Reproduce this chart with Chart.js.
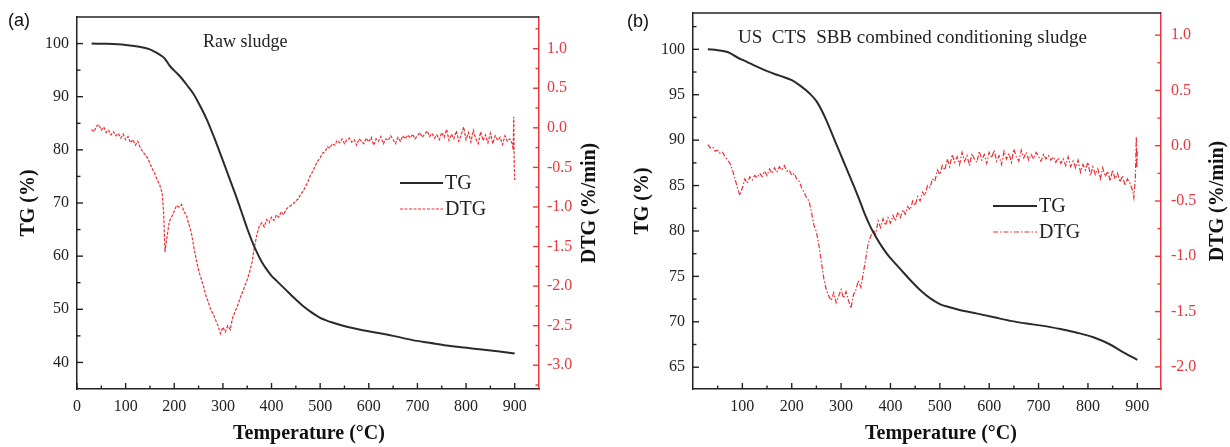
<!DOCTYPE html>
<html><head><meta charset="utf-8">
<script src="https://cdn.jsdelivr.net/npm/chart.js@4.4.0/dist/chart.umd.min.js"></script>
<style>
html,body{margin:0;padding:0;background:#fff;}
#wrap{position:relative;width:1230px;height:447px;overflow:hidden;background:#fff;}
canvas{position:absolute;top:0;}
#ca{left:0;} #cb{left:615px;}
</style></head><body>
<div id="wrap"><canvas id="ca" width="615" height="447"></canvas><canvas id="cb" width="615" height="447"></canvas></div>
<script>
// ---------- DATA ----------
// Panel (a) Raw sludge : TG (%) vs temperature (°C)
const tgA = [[30,100],[60,99.95],[100,99.75],[125,99.45],[150,98.9],[165,98.2],[175,97.6],[182,97.0],[190,95.9],[200,94.9],[212,93.8],[225,92.3],[239,90.6],[253,88.3],[267,85.7],[280,82.8],[295,79.2],[308,76.0],[325,71.8],[341,67.6],[350,65.2],[360,62.8],[370,60.7],[380,58.9],[390,57.5],[400,56.3],[410,55.4],[420,54.5],[430,53.6],[440,52.7],[450,51.85],[460,51.0],[470,50.25],[480,49.55],[490,48.95],[500,48.4],[510,48.0],[525,47.5],[555,46.7],[590,46.0],[623,45.5],[655,44.9],[690,44.2],[725,43.7],[760,43.2],[795,42.8],[828,42.5],[865,42.1],[900,41.7]];
// Panel (a) DTG (%/min)
const dtgA = [[30,-0.02],[35,-0.05],[40,0.02],[45,0.04],[50,-0.03],[55,0.01],[60,-0.06],[65,-0.03],[70,-0.09],[75,-0.05],[80,-0.10],[85,-0.07],[90,-0.13],[95,-0.08],[100,-0.15],[105,-0.11],[110,-0.19],[115,-0.15],[120,-0.22],[125,-0.17],[130,-0.25],[135,-0.30],[140,-0.34],[145,-0.38],[150,-0.45],[155,-0.52],[160,-0.58],[165,-0.66],[170,-0.72],[175,-0.82],[178,-1.05],[181,-1.57],[185,-1.38],[190,-1.18],[195,-1.12],[200,-1.05],[205,-0.98],[210,-1.00],[215,-0.97],[220,-1.06],[225,-1.10],[230,-1.22],[235,-1.32],[240,-1.50],[245,-1.66],[250,-1.80],[255,-1.90],[260,-2.00],[265,-2.12],[270,-2.20],[275,-2.30],[280,-2.35],[285,-2.43],[290,-2.50],[295,-2.60],[300,-2.52],[305,-2.58],[310,-2.50],[315,-2.55],[320,-2.40],[325,-2.32],[330,-2.25],[335,-2.16],[340,-2.08],[345,-2.00],[350,-1.92],[355,-1.82],[360,-1.70],[365,-1.50],[370,-1.35],[375,-1.24],[380,-1.20],[385,-1.25],[390,-1.16],[395,-1.20],[400,-1.13],[405,-1.17],[410,-1.10],[415,-1.13],[420,-1.06],[425,-1.10],[430,-1.03],[435,-1.00],[440,-0.98],[445,-0.96],[450,-0.92],[455,-0.90],[460,-0.84],[465,-0.80],[470,-0.74],[475,-0.68],[480,-0.60],[485,-0.55],[490,-0.48],[495,-0.42],[500,-0.38],[505,-0.32],[510,-0.30],[515,-0.24],[520,-0.26],[525,-0.20],[530,-0.22],[535,-0.16],[540,-0.19],[545,-0.14],[550,-0.20],[555,-0.15],[560,-0.13],[565,-0.18],[570,-0.15],[575,-0.22],[580,-0.14],[585,-0.17],[590,-0.20],[595,-0.13],[600,-0.18],[605,-0.12],[610,-0.22],[615,-0.14],[620,-0.17],[625,-0.11],[630,-0.20],[635,-0.14],[640,-0.16],[645,-0.10],[650,-0.15],[655,-0.20],[660,-0.12],[665,-0.17],[670,-0.10],[675,-0.14],[680,-0.09],[685,-0.13],[690,-0.08],[695,-0.14],[700,-0.10],[705,-0.06],[710,-0.12],[715,-0.08],[720,-0.04],[725,-0.11],[730,-0.07],[735,-0.13],[740,-0.09],[745,-0.15],[750,-0.06],[755,-0.12],[760,-0.02],[765,-0.16],[770,-0.08],[775,-0.14],[780,-0.04],[785,-0.17],[790,-0.09],[795,0.01],[800,-0.15],[805,-0.06],[810,-0.18],[815,-0.03],[820,-0.14],[825,-0.20],[830,-0.05],[835,-0.16],[840,-0.09],[845,-0.19],[850,-0.07],[855,-0.20],[860,-0.10],[865,-0.16],[870,-0.12],[875,-0.21],[880,-0.10],[885,-0.17],[890,-0.14],[895,-0.20],[897,-0.28],[898,0.14],[899,-0.45],[900,-0.66]];

// Panel (b) US CTS SBB combined conditioning sludge : TG (%)
const tgB = [[30,100],[50,99.9],[70,99.7],[90,99.1],[110,98.6],[125,98.2],[150,97.6],[175,97.1],[200,96.6],[217,96.0],[237,95.1],[250,94.3],[260,93.35],[270,92.2],[280,90.9],[290,89.6],[300,88.3],[310,87.0],[320,85.7],[330,84.4],[340,83.0],[350,81.6],[360,80.4],[370,79.4],[380,78.5],[390,77.7],[400,77.0],[410,76.4],[420,75.8],[440,74.6],[460,73.5],[480,72.6],[500,71.95],[520,71.6],[540,71.3],[576,70.9],[610,70.5],[643,70.1],[676,69.8],[710,69.55],[744,69.2],[778,68.8],[811,68.3],[845,67.5],[870,66.7],[900,65.8]];
// Panel (b) DTG (%/min)
const dtgB = [[30,0.01],[35,-0.02],[40,-0.01],[45,-0.05],[50,-0.04],[55,-0.07],[60,-0.06],[65,-0.10],[70,-0.13],[75,-0.16],[80,-0.22],[85,-0.30],[90,-0.38],[95,-0.45],[100,-0.38],[105,-0.30],[110,-0.34],[115,-0.28],[120,-0.31],[125,-0.27],[130,-0.29],[135,-0.25],[140,-0.28],[145,-0.23],[150,-0.27],[155,-0.21],[160,-0.25],[165,-0.20],[170,-0.24],[175,-0.19],[180,-0.22],[185,-0.18],[190,-0.23],[195,-0.22],[200,-0.27],[205,-0.25],[210,-0.30],[215,-0.32],[220,-0.38],[225,-0.42],[230,-0.47],[235,-0.50],[240,-0.60],[245,-0.72],[250,-0.78],[255,-0.90],[260,-1.05],[265,-1.20],[270,-1.30],[275,-1.36],[280,-1.40],[285,-1.33],[290,-1.42],[295,-1.36],[300,-1.30],[305,-1.38],[310,-1.32],[315,-1.40],[320,-1.47],[325,-1.35],[330,-1.30],[335,-1.22],[340,-1.28],[345,-1.15],[350,-1.02],[355,-0.88],[360,-0.82],[365,-0.76],[370,-0.80],[375,-0.68],[380,-0.74],[385,-0.66],[390,-0.72],[395,-0.65],[400,-0.70],[405,-0.63],[410,-0.68],[415,-0.60],[420,-0.65],[425,-0.58],[430,-0.62],[435,-0.55],[440,-0.58],[445,-0.50],[450,-0.54],[455,-0.46],[460,-0.50],[465,-0.42],[470,-0.45],[475,-0.36],[480,-0.38],[485,-0.30],[490,-0.32],[495,-0.22],[500,-0.26],[505,-0.18],[510,-0.22],[515,-0.12],[520,-0.19],[525,-0.08],[530,-0.15],[535,-0.10],[540,-0.17],[545,-0.06],[550,-0.14],[555,-0.09],[560,-0.18],[565,-0.07],[570,-0.12],[575,-0.15],[580,-0.05],[585,-0.13],[590,-0.08],[595,-0.16],[600,-0.06],[605,-0.11],[610,-0.04],[615,-0.14],[620,-0.09],[625,-0.17],[630,-0.05],[635,-0.12],[640,-0.07],[645,-0.15],[650,-0.03],[655,-0.10],[660,-0.14],[665,-0.04],[670,-0.11],[675,-0.06],[680,-0.13],[685,-0.08],[690,-0.12],[695,-0.06],[700,-0.10],[705,-0.14],[710,-0.08],[715,-0.12],[720,-0.09],[725,-0.13],[730,-0.10],[735,-0.15],[740,-0.11],[745,-0.16],[750,-0.12],[755,-0.18],[760,-0.10],[765,-0.19],[770,-0.14],[775,-0.20],[780,-0.13],[785,-0.24],[790,-0.17],[795,-0.22],[800,-0.15],[805,-0.27],[810,-0.19],[815,-0.26],[820,-0.21],[825,-0.30],[830,-0.20],[835,-0.28],[840,-0.23],[845,-0.32],[850,-0.22],[855,-0.30],[860,-0.25],[865,-0.33],[870,-0.27],[875,-0.36],[880,-0.30],[885,-0.34],[890,-0.40],[893,-0.47],[896,-0.30],[898,0.08],[899,-0.20],[900,-0.05]];

// Tick values
const xTicksA = [0,100,200,300,400,500,600,700,800,900];
const xMinorA = [50,150,250,350,450,550,650,750,850];
const tgTicksA = [40,50,60,70,80,90,100];
const tgMinorA = [45,55,65,75,85,95];
const dtgTicksA = [-3.0,-2.5,-2.0,-1.5,-1.0,-0.5,0.0,0.5,1.0];
const dtgMinorA = [-3.25,-2.75,-2.25,-1.75,-1.25,-0.75,-0.25,0.25,0.75,1.25];

const xTicksB = [100,200,300,400,500,600,700,800,900];
const xMinorB = [50,150,250,350,450,550,650,750,850];
const tgTicksB = [65,70,75,80,85,90,95,100];
const tgMinorB = [67.5,72.5,77.5,82.5,87.5,92.5,97.5,102.5];
const dtgTicksB = [-2.0,-1.5,-1.0,-0.5,0.0,0.5,1.0];
const dtgMinorB = [-1.75,-1.25,-0.75,-0.25,0.25,0.75];

const BLACK = '#222222';
const RED = '#e8383d';
const TGCOL = '#2b2b2b';
const DTGCOL = '#ee2e33';
const SERIF = '"Liberation Serif", "Times New Roman", serif';

function toXY(arr){ return arr.map(p => ({x:p[0], y:p[1]})); }
function noPad(s){ s.paddingTop = 0; s.paddingBottom = 0; s.paddingLeft = 0; s.paddingRight = 0; }

const decor = {
  id: 'decor',
  afterDraw(chart, args, o) {
    const {ctx, chartArea: a, scales} = chart;
    ctx.save();
    ctx.strokeStyle = BLACK; ctx.lineWidth = 1.5;
    ctx.beginPath(); ctx.moveTo(a.left, a.top); ctx.lineTo(a.right, a.top); ctx.stroke();
    const tick = (scale, vals, len, side, color) => {
      ctx.strokeStyle = color; ctx.lineWidth = 1.4;
      vals.forEach(v => {
        const p = scale.getPixelForValue(v);
        if (side !== 'bottom' && (p < a.top - 0.5 || p > a.bottom + 0.5)) return;
        ctx.beginPath();
        if (side === 'bottom') { ctx.moveTo(p, a.bottom); ctx.lineTo(p, a.bottom - len); }
        else if (side === 'left') { ctx.moveTo(a.left, p); ctx.lineTo(a.left + len, p); }
        else { ctx.moveTo(a.right, p); ctx.lineTo(a.right - len, p); }
        ctx.stroke();
      });
    };
    tick(scales.x, o.xMaj, 6, 'bottom', BLACK);
    tick(scales.x, o.xMin, 3.5, 'bottom', BLACK);
    tick(scales.y, o.yMaj, 6, 'left', BLACK);
    tick(scales.y, o.yMin, 3.5, 'left', BLACK);
    tick(scales.y1, o.y1Maj, 6, 'right', RED);
    tick(scales.y1, o.y1Min, 3.5, 'right', RED);

    ctx.fillStyle = '#111';
    ctx.font = '18px "Liberation Sans", Arial, sans-serif';
    ctx.textBaseline = 'middle'; ctx.textAlign = 'left';
    ctx.fillText(o.letter, o.letterX, o.letterY);

    ctx.font = o.noteSize + 'px ' + SERIF;
    ctx.textBaseline = 'alphabetic';
    ctx.fillStyle = '#222';
    ctx.fillText(o.note, o.noteX, o.noteY);

    ctx.font = '20px ' + SERIF;
    ctx.textBaseline = 'middle';
    chart.data.datasets.forEach((ds, i) => {
      const ly = o.legY[i];
      ctx.strokeStyle = ds.borderColor; ctx.lineWidth = ds.borderWidth;
      ctx.setLineDash(ds.borderDash || []);
      ctx.beginPath(); ctx.moveTo(o.legX0, ly); ctx.lineTo(o.legX1, ly); ctx.stroke();
      ctx.setLineDash([]);
      ctx.fillStyle = '#222';
      ctx.fillText(ds.label, o.legX1 + 2, ly + 1);
    });

    ctx.font = 'bold 20px ' + SERIF;
    ctx.fillStyle = '#111';
    ctx.textAlign = 'center'; ctx.textBaseline = 'middle';
    ctx.fillText(o.xTitle, o.xTitleX, o.xTitleY);
    const midY = (a.top + a.bottom) / 2;
    [[o.yTitle, o.yTitleX], [o.y1Title, o.y1TitleX]].forEach(([t, x]) => {
      ctx.save(); ctx.translate(x, midY); ctx.rotate(-Math.PI / 2);
      ctx.fillText(t, 0, 0); ctx.restore();
    });
    ctx.restore();
  }
};

function makeChart(id, cfg) {
  const W = 615, H = 447;
  return new Chart(document.getElementById(id), {
    type: 'line',
    data: {
      datasets: [
        { label: 'TG', data: toXY(cfg.tg), yAxisID: 'y', borderColor: TGCOL, borderWidth: 2,
          pointRadius: 0, tension: 0.4, cubicInterpolationMode: 'monotone' },
        { label: 'DTG', data: toXY(cfg.dtg), yAxisID: 'y1', borderColor: DTGCOL, borderWidth: 1.2,
          borderDash: cfg.dash, pointRadius: 0, tension: 0 }
      ]
    },
    options: {
      responsive: false, animation: false, devicePixelRatio: 1,
      layout: { padding: { top: cfg.top, left: 0, right: 0, bottom: 0 } },
      plugins: { legend: { display: false }, tooltip: { enabled: false }, decor: cfg.decor },
      scales: {
        x: {
          type: 'linear', position: 'bottom', min: cfg.xMin, max: cfg.xMax,
          afterFit: s => { s.height = H - cfg.bottom; noPad(s); },
          afterBuildTicks: s => { s.ticks = cfg.xTicks.map(v => ({ value: v })); },
          grid: { display: true, drawOnChartArea: false, drawTicks: false },
          border: { display: true, color: BLACK, width: 1.5 },
          ticks: { autoSkip: false, maxRotation: 0, padding: 8, color: BLACK,
                   font: { family: SERIF, size: 16 }, callback: v => String(v) }
        },
        y: {
          type: 'linear', position: 'left', min: cfg.yMin, max: cfg.yMax,
          afterFit: s => { s.width = cfg.left; noPad(s); },
          afterBuildTicks: s => { s.ticks = cfg.yTicks.map(v => ({ value: v })); },
          grid: { display: true, drawOnChartArea: false, drawTicks: false },
          border: { display: true, color: BLACK, width: 1.5 },
          ticks: { autoSkip: false, padding: 8, color: BLACK,
                   font: { family: SERIF, size: 16 }, callback: v => String(v) }
        },
        y1: {
          type: 'linear', position: 'right', min: cfg.y1Min, max: cfg.y1Max,
          afterFit: s => { s.width = W - cfg.right; noPad(s); },
          afterBuildTicks: s => { s.ticks = cfg.y1Ticks.map(v => ({ value: v })); },
          grid: { display: true, drawOnChartArea: false, drawTicks: false },
          border: { display: true, color: RED, width: 1.5 },
          ticks: { autoSkip: false, padding: cfg.y1Pad, color: RED,
                   font: { family: SERIF, size: 16 }, callback: v => Number(v).toFixed(1) }
        }
      }
    },
    plugins: [decor]
  });
}

makeChart('ca', {
  tg: tgA, dtg: dtgA, dash: [3, 1.5],
  top: 17, bottom: 389, left: 77, right: 539,
  xMin: 0, xMax: 950, yMin: 35, yMax: 105, y1Min: -3.3, y1Max: 1.4, y1Pad: 8,
  xTicks: xTicksA, yTicks: tgTicksA, y1Ticks: dtgTicksA,
  decor: {
    xMaj: xTicksA, xMin: xMinorA, yMaj: tgTicksA, yMin: tgMinorA, y1Maj: dtgTicksA, y1Min: dtgMinorA,
    letter: '(a)', letterX: 8, letterY: 21,
    note: 'Raw sludge', noteSize: 18, noteX: 203, noteY: 47,
    legX0: 400, legX1: 443, legY: [183, 209],
    xTitle: 'Temperature (°C)', xTitleX: 309, xTitleY: 434,
    yTitle: 'TG (%)', yTitleX: 29, y1Title: 'DTG (%/min)', y1TitleX: 590
  }
});

makeChart('cb', {
  tg: tgB, dtg: dtgB, dash: [5, 2, 1.5, 2],
  top: 13, bottom: 389, left: 78, right: 546,
  xMin: 0, xMax: 948, yMin: 62.6, yMax: 104, y1Min: -2.2, y1Max: 1.2, y1Pad: 10,
  xTicks: xTicksB, yTicks: tgTicksB, y1Ticks: dtgTicksB,
  decor: {
    xMaj: xTicksB, xMin: xMinorB, yMaj: tgTicksB, yMin: tgMinorB, y1Maj: dtgTicksB, y1Min: dtgMinorB,
    letter: '(b)', letterX: 12, letterY: 22,
    note: 'US  CTS  SBB combined conditioning sludge', noteSize: 19, noteX: 123, noteY: 43,
    legX0: 378, legX1: 422, legY: [206, 232],
    xTitle: 'Temperature (°C)', xTitleX: 326, xTitleY: 434,
    yTitle: 'TG (%)', yTitleX: 28, y1Title: 'DTG (%/min)', y1TitleX: 603
  }
});
</script>
</body></html>
